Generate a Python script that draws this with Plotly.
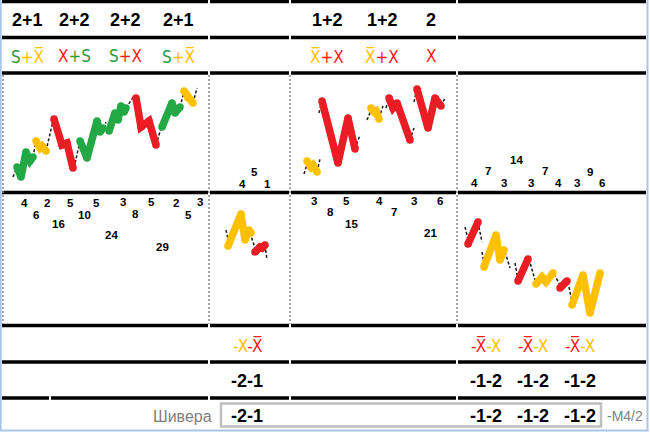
import plotly.graph_objects as go

# ---------------- data ----------------
head_labels = ["2+1", "2+2", "2+2", "2+1", "1+2", "1+2", "2"]
head_x = [27, 74, 125, 178, 327, 382, 431]

OV = "X\u0305"
sym_labels = [
    [("S", "g"), ("+" + OV, "y")],
    [("X", "r"), ("+S", "g")],
    [("S", "g"), ("+X", "r")],
    [("S", "g"), ("+" + OV, "y")],
    [(OV, "y"), ("+X", "r")],
    [(OV, "y"), ("+X", "r")],
    [("X", "r")],
]
sym_x = [27, 74, 125, 178, 327, 382, 431]

neg_sym_labels = [
    [("-X", "y"), ("-" + OV, "r")],
    [("-" + OV, "r"), ("-X", "y")],
    [("-" + OV, "r"), ("-X", "y")],
    [("-" + OV, "r"), ("-X", "y")],
]
neg_x = [247, 486, 533, 580]
neg_num_labels = ["-2-1", "-1-2", "-1-2", "-1-2"]

p1_counts = [4, 6, 2, 16, 5, 10, 5, 24, 3, 8, 5, 29, 2, 5, 3]
p1_count_x = [24, 36, 47, 58, 70, 84, 96, 111, 123, 135, 151, 162, 176, 188, 200]
p1_count_y = [203, 215, 203, 224, 203, 215, 203, 235, 202, 214, 202, 247, 203, 215, 202]

p2_counts = [4, 5, 1]
p2_count_x = [242, 254, 267]
p2_count_y = [184, 172, 184]

p3_counts = [3, 8, 5, 15, 4, 7, 3, 21, 6]
p3_count_x = [314, 330, 346, 351, 379, 394, 414, 430, 440]
p3_count_y = [201, 212, 201, 224, 201, 212, 201, 233, 201]

p4_counts = [4, 7, 3, 14, 3, 7, 4, 3, 9, 6]
p4_count_x = [474, 488, 504, 516, 531, 545, 558, 577, 590, 602]
p4_count_y = [183, 171, 183, 160, 183, 171, 183, 183, 172, 183]

# wave segments: (kind, xs, ys); kind d = thin dashed, g/r/y = thick coloured
p1_wave = [
    ("d", [13, 17], [177, 167]),
    ("g", [17, 21, 26, 30, 33], [167, 177, 152, 161, 157]),
    ("d", [33, 36], [157, 141]),
    ("y", [36, 40, 42, 46], [141, 148, 146, 151]),
    ("d", [46, 53], [151, 121]),
    ("r", [54, 62, 67, 73], [119, 145, 143, 168]),
    ("d", [74, 80], [168, 141]),
    ("g", [80, 87, 97, 100, 103], [141, 158, 121, 132, 128]),
    ("d", [102, 106], [133, 122]),
    ("g", [109, 115, 118, 121, 124, 126], [131, 113, 120, 106, 112, 108]),
    ("d", [126, 134], [108, 96]),
    ("r", [136, 141, 149, 156], [98, 127, 121, 145]),
    ("d", [156, 162], [145, 125]),
    ("g", [162, 172, 175, 180], [127, 103, 113, 107]),
    ("d", [180, 184], [107, 92]),
    ("y", [184, 188, 193], [91, 98, 103]),
    ("d", [193, 197], [103, 88]),
]
p2_wave = [
    ("d", [226, 229], [230, 244]),
    ("y", [228, 241, 245, 249, 251], [246, 214, 240, 230, 233]),
    ("d", [250, 255], [233, 248]),
    ("r", [255, 260, 262, 265], [252, 247, 248, 245]),
    ("d", [265, 267], [245, 260]),
]
p3_wave = [
    ("d", [304, 308], [174, 161]),
    ("y", [307, 311, 313, 317], [161, 167, 165, 172]),
    ("d", [317, 320], [172, 159]),
    ("d", [319, 322], [113, 101]),
    ("r", [322, 338, 348, 355], [101, 163, 118, 149]),
    ("d", [355, 360], [149, 135]),
    ("d", [367, 372], [120, 108]),
    ("y", [371, 374, 376, 379], [108, 112, 111, 119]),
    ("d", [379, 383], [118, 106]),
    ("d", [386, 389], [108, 97]),
    ("r", [389, 393, 397, 410], [98, 108, 103, 140]),
    ("d", [410, 414], [140, 128]),
    ("d", [414, 417], [102, 88]),
    ("r", [417, 428, 435, 441], [89, 128, 98, 106]),
    ("d", [441, 445], [106, 98]),
]
p4_wave = [
    ("d", [465, 469], [227, 243]),
    ("r", [468, 478], [244, 222]),
    ("d", [478, 482], [222, 242]),
    ("d", [482, 484], [252, 263]),
    ("y", [484, 496, 500, 504], [267, 235, 260, 250]),
    ("d", [505, 510], [252, 268]),
    ("d", [515, 518], [263, 280]),
    ("r", [518, 528], [281, 259]),
    ("d", [529, 535], [259, 280]),
    ("y", [536, 542, 546, 553], [284, 277, 282, 273]),
    ("d", [554, 560], [274, 285]),
    ("r", [560, 567], [288, 281]),
    ("d", [568, 572], [282, 302]),
    ("y", [572, 583, 590, 600], [305, 275, 313, 273]),
    ("d", [600, 602], [272, 277]),
]

# ---------------- styles ----------------
TXT = {"g": "#2a9d3c", "r": "#ff1a1a", "y": "#ffc000"}
WAVE = {"g": "#22a845", "r": "#ea1c24", "y": "#ffc000"}
FONT = "Liberation Sans"

fig = go.Figure()

for wave in (p1_wave, p2_wave, p3_wave, p4_wave):
    for kind, xs, ys in wave:
        if kind == "d":
            fig.add_trace(go.Scatter(x=xs, y=ys, mode="lines",
                                     line=dict(color="#1a1a1a", width=1.5, dash="3px,2px"),
                                     hoverinfo="skip", showlegend=False))
    for kind, xs, ys in wave:
        if kind != "d":
            fig.add_trace(go.Scatter(x=xs, y=ys, mode="lines+markers",
                                     line=dict(color=WAVE[kind], width=7.5),
                                     marker=dict(color=WAVE[kind], size=7.5, line=dict(width=0)),
                                     hoverinfo="skip", showlegend=False))

# grid lines
shapes = []
h_lines = [1.5, 37.5, 73, 192.5, 325.5, 362, 398]
gaps = [209, 290, 457]
for yv in h_lines:
    cuts = gaps + ([50] if yv == 398 else [])
    cuts = sorted(cuts)
    xs0 = [2] + [c + 1 for c in cuts]
    xs1 = [c - 1 for c in cuts] + [646]
    for a, b in zip(xs0, xs1):
        shapes.append(dict(type="line", xref="x", yref="y", x0=a, x1=b, y0=yv, y1=yv,
                           line=dict(color="#000000", width=3.5)))
for xv in [3, 209, 290, 457]:
    shapes.append(dict(type="line", xref="x", yref="y", x0=xv, x1=xv, y0=75, y1=324,
                       line=dict(color="#8a8a8a", width=1.5, dash="2px,2px")))
# bottom box
shapes.append(dict(type="rect", xref="x", yref="y", x0=221, x1=601, y0=403.5, y1=426.5,
                   line=dict(color="#bfbfbf", width=2.5)))
# outer light-blue frame
shapes.append(dict(type="line", xref="x", yref="y", x0=0.8, x1=0.8, y0=0, y1=431,
                   line=dict(color="#a9c6e8", width=1.8)))
shapes.append(dict(type="line", xref="x", yref="y", x0=647.5, x1=647.5, y0=0, y1=431,
                   line=dict(color="#a9c6e8", width=2)))
shapes.append(dict(type="line", xref="x", yref="y", x0=0, x1=648.5, y0=430.5, y1=430.5,
                   line=dict(color="#a9c6e8", width=2)))

ann = []


def add_text(x, y, text, size, color="#000000", bold=False, xanchor="center", family=FONT):
    t = "<b>" + text + "</b>" if bold else text
    ann.append(dict(x=x, y=y, xref="x", yref="y", text=t, showarrow=False,
                    xanchor=xanchor, yanchor="middle",
                    font=dict(family=family, size=size, color=color)))


def colored(parts):
    return "".join('<span style="color:%s">%s</span>' % (TXT[c], s) for s, c in parts)


for lab, xv in zip(head_labels, head_x):
    add_text(xv, 20, lab, 18, bold=True)
for parts, xv in zip(sym_labels, sym_x):
    add_text(xv, 56, colored(parts), 17, family="DejaVu Sans Condensed")
for parts, xv in zip(neg_sym_labels, neg_x):
    add_text(xv, 345, colored(parts), 17, family="DejaVu Sans Condensed")
for lab, xv in zip(neg_num_labels, neg_x):
    add_text(xv, 381, lab, 18, bold=True)
    add_text(xv, 416, lab, 18, bold=True)

for vals, xs, ys in ((p1_counts, p1_count_x, p1_count_y),
                     (p2_counts, p2_count_x, p2_count_y),
                     (p3_counts, p3_count_x, p3_count_y),
                     (p4_counts, p4_count_x, p4_count_y)):
    for v, xv, yv in zip(vals, xs, ys):
        add_text(xv, yv, str(v), 11.5, bold=True)

add_text(214, 416, "Шивера", 16, color="#7f7f7f", xanchor="right")
add_text(605, 416, "-M4/2", 14, color="#7f7f7f", xanchor="left")

fig.update_layout(
    width=650, height=433,
    margin=dict(l=0, r=0, t=0, b=0),
    paper_bgcolor="white", plot_bgcolor="white",
    xaxis=dict(range=[0, 650], visible=False, fixedrange=True),
    yaxis=dict(range=[433, 0], visible=False, fixedrange=True),
    shapes=shapes, annotations=ann, showlegend=False,
)

fig.write_html("out.html", config={"displayModeBar": False},
               post_script="document.body.style.margin='0';document.body.style.padding='0';"
                           "document.body.style.overflow='hidden';")
